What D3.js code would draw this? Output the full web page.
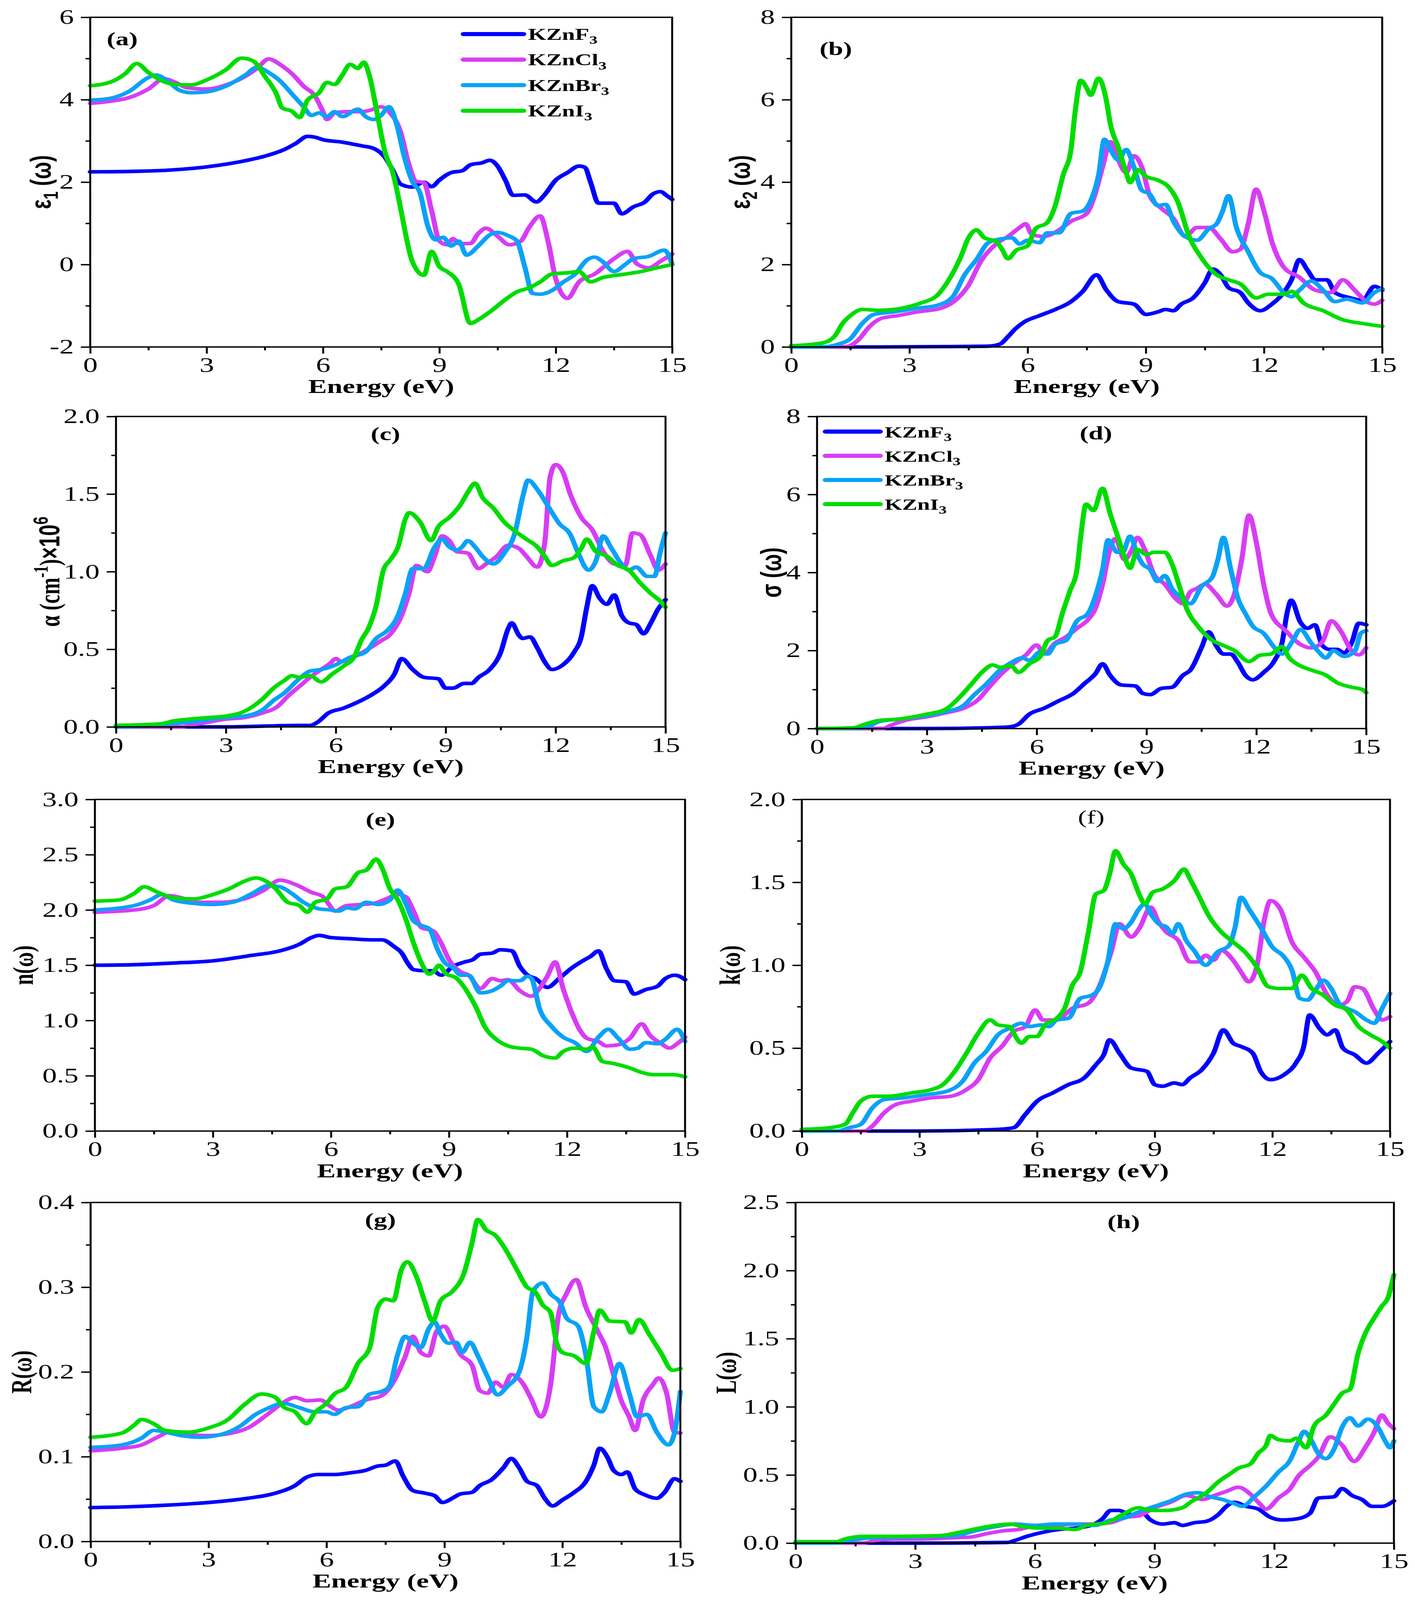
<!DOCTYPE html>
<html>
<head>
<meta charset="utf-8">
<script src="https://cdn.jsdelivr.net/npm/d3@7"></script>
<style>
  html, body { margin: 0; padding: 0; background: #fff; overflow: hidden; }
  #chart { display: block; width: 100vw; height: 100vh; }
  svg text { font-family: "Liberation Serif", "Times New Roman", serif; }
</style>
</head>
<body>
<svg id="chart"></svg>
<script>
// ---- shared ----
const energyTicks = [0, 3, 6, 9, 12, 15];
const energyMinor = [1.5, 4.5, 7.5, 10.5, 13.5];
const materials = [["KZnF", "3"], ["KZnCl", "3"], ["KZnBr", "3"], ["KZnI", "3"]];
const colors = ["#0000ff", "#d83cf5", "#0aa2f7", "#00dc00"];

// ---- (a) eps1 ----
const eps1_F = [[0,2.25],[1,2.26],[2,2.29],[3,2.37],[4,2.52],[4.5,2.63],[5,2.79],[5.3,2.94],[5.6,3.11],[5.8,3.09],[6,3.03],[6.5,2.97],[7,2.88],[7.3,2.82],[7.6,2.6],[7.8,2.29],[8,1.95],[8.3,1.88],[8.6,2.0],[8.8,1.89],[9,2.05],[9.3,2.23],[9.6,2.28],[9.8,2.42],[10.1,2.47],[10.3,2.53],[10.5,2.39],[10.7,2.05],[10.9,1.68],[11.2,1.69],[11.5,1.52],[11.7,1.68],[12,2.05],[12.3,2.23],[12.6,2.39],[12.75,2.36],[12.9,1.99],[13.1,1.49],[13.5,1.49],[13.7,1.23],[14,1.4],[14.3,1.52],[14.5,1.71],[14.7,1.77],[14.85,1.68],[15,1.58]];
const eps1_Cl = [[0,3.91],[0.5,3.96],[1,4.05],[1.5,4.26],[1.9,4.51],[2.2,4.42],[2.5,4.29],[3,4.26],[3.5,4.36],[4,4.57],[4.3,4.76],[4.6,4.99],[4.9,4.85],[5.2,4.63],[5.5,4.33],[5.8,4.08],[6.0,3.71],[6.1,3.52],[6.3,3.68],[6.6,3.71],[7,3.71],[7.3,3.77],[7.5,3.83],[7.7,3.71],[8,3.22],[8.2,2.48],[8.4,2.02],[8.6,1.99],[8.8,1.31],[9,0.57],[9.2,0.48],[9.35,0.63],[9.5,0.51],[9.8,0.51],[10,0.75],[10.2,0.88],[10.5,0.69],[10.8,0.48],[11.1,0.57],[11.3,0.88],[11.6,1.18],[11.8,0.57],[12,-0.35],[12.3,-0.82],[12.6,-0.42],[13,-0.23],[13.5,0.14],[13.85,0.32],[14.1,0.01],[14.4,-0.08],[14.7,0.08],[15,0.26]];
const eps1_Br = [[0,3.99],[0.5,4.03],[1,4.2],[1.5,4.54],[1.7,4.6],[2,4.45],[2.3,4.23],[2.6,4.17],[3,4.19],[3.5,4.33],[4,4.6],[4.3,4.79],[4.6,4.66],[4.9,4.45],[5.2,4.14],[5.5,3.83],[5.7,3.62],[5.9,3.68],[6.1,3.59],[6.3,3.71],[6.5,3.59],[6.9,3.77],[7.1,3.59],[7.3,3.52],[7.5,3.62],[7.7,3.83],[7.9,3.4],[8.1,2.6],[8.3,2.02],[8.5,1.74],[8.7,0.94],[8.9,0.6],[9.1,0.66],[9.3,0.45],[9.5,0.57],[9.7,0.23],[10,0.45],[10.3,0.72],[10.5,0.78],[10.8,0.69],[11,0.57],[11.2,-0.05],[11.4,-0.7],[11.6,-0.72],[11.9,-0.63],[12.2,-0.42],[12.5,-0.23],[12.8,0.11],[13,0.18],[13.2,0.08],[13.5,-0.17],[13.8,0.01],[14,0.14],[14.4,0.2],[14.8,0.35],[15,0.01]];
const eps1_I = [[0,4.34],[0.5,4.42],[0.9,4.63],[1.2,4.88],[1.5,4.66],[1.8,4.48],[2.2,4.37],[2.6,4.36],[3,4.48],[3.5,4.73],[3.9,5.01],[4.2,4.94],[4.5,4.57],[4.8,4.14],[4.95,3.8],[5.2,3.72],[5.4,3.57],[5.6,3.99],[5.9,4.17],[6.1,4.42],[6.3,4.37],[6.5,4.6],[6.7,4.86],[6.9,4.76],[7.05,4.91],[7.2,4.57],[7.4,3.65],[7.6,2.72],[7.8,2.23],[8,1.37],[8.1,0.88],[8.3,0.08],[8.6,-0.26],[8.8,0.32],[9,-0.05],[9.2,-0.17],[9.5,-0.48],[9.8,-1.43],[10,-1.34],[10.3,-1.15],[10.7,-0.85],[11,-0.66],[11.3,-0.57],[11.6,-0.42],[11.9,-0.23],[12.3,-0.2],[12.6,-0.17],[12.9,-0.42],[13.2,-0.32],[13.8,-0.23],[14.2,-0.17],[14.6,-0.08],[15,0]];

// ---- (b) eps2 ----
const eps2_F = [[0,0],[2,0],[4,0.01],[5,0.02],[5.3,0.07],[5.5,0.25],[5.7,0.45],[5.9,0.6],[6.3,0.76],[6.7,0.91],[7.1,1.1],[7.4,1.35],[7.75,1.75],[8,1.38],[8.3,1.1],[8.7,1.04],[9,0.79],[9.3,0.85],[9.5,0.91],[9.7,0.88],[9.9,1.04],[10.2,1.19],[10.5,1.56],[10.7,1.89],[10.9,1.75],[11.1,1.44],[11.4,1.32],[11.6,1.07],[11.9,0.88],[12.2,1.04],[12.5,1.32],[12.7,1.63],[12.9,2.12],[13.1,1.87],[13.3,1.63],[13.6,1.63],[13.8,1.32],[14.2,1.19],[14.5,1.13],[14.8,1.47],[15,1.38]];
const eps2_Cl = [[0,0],[1.4,0.01],[1.7,0.17],[2,0.51],[2.3,0.7],[2.7,0.76],[3.2,0.85],[3.8,0.94],[4.2,1.16],[4.5,1.5],[4.8,2.06],[5.2,2.5],[5.5,2.68],[5.8,2.9],[5.95,2.99],[6.1,2.74],[6.4,2.68],[6.8,2.84],[7.1,3.05],[7.5,3.24],[7.7,3.67],[7.9,4.36],[8.1,4.98],[8.3,4.54],[8.5,4.23],[8.7,4.64],[8.9,4.36],[9.1,3.67],[9.4,3.36],[9.7,3.12],[10,2.68],[10.3,2.9],[10.6,2.9],[10.9,2.62],[11.2,2.31],[11.4,2.37],[11.6,2.99],[11.8,3.83],[12,3.3],[12.2,2.56],[12.5,1.94],[12.9,1.69],[13.3,1.38],[13.7,1.32],[14,1.63],[14.3,1.38],[14.6,1.1],[14.8,1.04],[15,1.13]];
const eps2_Br = [[0,0],[0.9,0.01],[1.2,0.07],[1.5,0.2],[1.8,0.57],[2.1,0.79],[2.6,0.85],[3.2,0.94],[3.7,1.01],[4.1,1.22],[4.4,1.75],[4.7,2.12],[5,2.53],[5.3,2.62],[5.6,2.65],[5.8,2.5],[6,2.59],[6.3,2.53],[6.5,2.77],[6.8,2.77],[7.1,3.24],[7.4,3.3],[7.6,3.55],[7.8,4.17],[7.95,5.04],[8.1,4.79],[8.3,4.54],[8.5,4.79],[8.7,4.36],[8.9,3.8],[9.1,3.71],[9.3,3.43],[9.5,3.46],[9.7,3.05],[10,2.68],[10.3,2.59],[10.6,2.87],[10.8,2.99],[10.95,3.3],[11.1,3.67],[11.3,2.9],[11.6,2.31],[11.9,1.81],[12.2,1.66],[12.5,1.32],[12.7,1.22],[12.9,1.38],[13.2,1.6],[13.5,1.38],[13.8,1.1],[14.1,1.16],[14.5,1.07],[14.8,1.32],[15,1.41]];
const eps2_I = [[0,0.03],[0.8,0.1],[1.1,0.26],[1.3,0.57],[1.5,0.76],[1.8,0.91],[2.2,0.89],[2.8,0.94],[3.3,1.07],[3.7,1.25],[4,1.63],[4.3,2.18],[4.5,2.65],[4.7,2.84],[4.9,2.65],[5.2,2.56],[5.35,2.37],[5.5,2.14],[5.7,2.34],[6,2.46],[6.2,2.87],[6.5,3.02],[6.7,3.43],[6.9,4.17],[7.1,4.79],[7.2,5.66],[7.35,6.47],[7.5,6.28],[7.6,6.11],[7.8,6.52],[8,5.97],[8.1,5.41],[8.3,4.85],[8.5,4.23],[8.6,3.99],[8.8,4.3],[9,4.14],[9.3,4.05],[9.6,3.86],[9.8,3.55],[10.1,2.68],[10.4,2.18],[10.8,1.75],[11.1,1.63],[11.4,1.53],[11.8,1.19],[12.1,1.28],[12.5,1.28],[12.7,1.35],[13,1.07],[13.5,0.88],[14,0.66],[14.5,0.57],[15,0.5]];

// ---- (c) alpha ----
const alpha_F = [[0,0],[3,0],[5,0.01],[5.3,0.01],[5.5,0.03],[5.8,0.09],[6.2,0.12],[6.6,0.16],[7,0.21],[7.3,0.26],[7.6,0.34],[7.8,0.44],[8.1,0.37],[8.4,0.32],[8.8,0.31],[9.0,0.25],[9.2,0.25],[9.5,0.28],[9.7,0.28],[9.9,0.32],[10.2,0.37],[10.5,0.48],[10.7,0.63],[10.8,0.67],[11.0,0.59],[11.1,0.57],[11.3,0.58],[11.5,0.51],[11.7,0.42],[11.9,0.37],[12.2,0.4],[12.5,0.48],[12.7,0.58],[12.85,0.77],[13,0.91],[13.2,0.83],[13.4,0.79],[13.6,0.85],[13.8,0.72],[14,0.67],[14.2,0.66],[14.4,0.6],[14.6,0.67],[14.8,0.76],[15,0.82]];
const alpha_Cl = [[0,0],[1.8,0],[2,0.01],[2.5,0.03],[3,0.05],[3.5,0.06],[4,0.09],[4.4,0.13],[4.7,0.2],[5,0.26],[5.3,0.32],[5.6,0.37],[5.85,0.41],[6,0.44],[6.15,0.42],[6.4,0.44],[6.8,0.49],[7.2,0.55],[7.5,0.6],[7.8,0.72],[8,0.86],[8.2,1.04],[8.5,1.0],[8.7,1.1],[8.9,1.23],[9.1,1.2],[9.3,1.13],[9.6,1.12],[9.9,1.02],[10.1,1.05],[10.4,1.1],[10.7,1.17],[11,1.15],[11.2,1.1],[11.5,1.03],[11.7,1.18],[11.85,1.61],[12,1.69],[12.2,1.64],[12.4,1.5],[12.7,1.35],[13,1.27],[13.3,1.13],[13.6,1.05],[13.9,1.04],[14.1,1.25],[14.3,1.24],[14.6,1.1],[14.8,1.01],[15,1.05]];
const alpha_Br = [[0,0],[1.2,0.01],[1.5,0.02],[2,0.03],[3,0.06],[3.5,0.07],[4,0.11],[4.3,0.17],[4.6,0.22],[5,0.31],[5.3,0.36],[5.6,0.37],[6,0.4],[6.4,0.45],[6.8,0.48],[7.1,0.57],[7.4,0.62],[7.7,0.72],[7.9,0.86],[8.1,1.02],[8.4,1.02],[8.7,1.16],[8.9,1.21],[9.1,1.16],[9.3,1.14],[9.45,1.16],[9.6,1.2],[9.8,1.16],[10,1.1],[10.3,1.05],[10.6,1.12],[10.9,1.26],[11.1,1.48],[11.25,1.59],[11.5,1.53],[11.8,1.42],[12.1,1.31],[12.4,1.24],[12.6,1.13],[12.9,1.01],[13.1,1.07],[13.3,1.23],[13.5,1.16],[13.8,1.05],[14,1.01],[14.2,1.03],[14.5,0.97],[14.7,0.97],[14.85,1.12],[15,1.25]];
const alpha_I = [[0,0.01],[1.2,0.02],[1.6,0.04],[2,0.05],[2.5,0.06],[3,0.07],[3.5,0.1],[4,0.18],[4.3,0.25],[4.6,0.3],[4.8,0.33],[5,0.32],[5.3,0.33],[5.6,0.29],[5.9,0.34],[6.2,0.39],[6.5,0.45],[6.7,0.56],[6.9,0.64],[7.1,0.78],[7.3,1.01],[7.5,1.08],[7.7,1.16],[7.9,1.34],[8,1.38],[8.3,1.32],[8.6,1.2],[8.8,1.29],[9.1,1.35],[9.4,1.43],[9.6,1.51],[9.8,1.57],[10,1.48],[10.3,1.41],[10.6,1.32],[10.9,1.26],[11.2,1.21],[11.5,1.16],[11.7,1.1],[11.9,1.04],[12.2,1.07],[12.5,1.09],[12.7,1.15],[12.85,1.21],[13.1,1.13],[13.4,1.1],[13.7,1.04],[14,1.01],[14.3,0.93],[14.6,0.86],[14.9,0.8],[15,0.77]];

// ---- (d) sigma ----
const sigma_F = [[0,0],[3,0],[5,0.03],[5.3,0.05],[5.5,0.11],[5.8,0.37],[6.2,0.52],[6.6,0.71],[7,0.9],[7.3,1.15],[7.6,1.4],[7.8,1.66],[8.0,1.37],[8.3,1.12],[8.7,1.09],[8.9,0.9],[9.1,0.87],[9.4,1.03],[9.7,1.06],[10,1.37],[10.2,1.5],[10.5,2.07],[10.7,2.48],[10.9,2.13],[11.1,1.91],[11.3,1.91],[11.5,1.69],[11.7,1.37],[11.9,1.25],[12.2,1.44],[12.5,1.75],[12.7,2.19],[12.85,3.01],[12.95,3.29],[13.2,2.73],[13.4,2.57],[13.6,2.66],[13.8,2.13],[14,2.03],[14.2,2.03],[14.4,1.94],[14.6,2.19],[14.8,2.7],[15,2.66]];
const sigma_Cl = [[0,0],[1.8,0],[2,0.08],[2.5,0.23],[3,0.3],[3.5,0.4],[4,0.52],[4.4,0.74],[4.7,1.06],[5,1.37],[5.4,1.69],[5.7,1.88],[6,2.14],[6.2,1.91],[6.5,2.19],[6.8,2.35],[7.1,2.57],[7.4,2.79],[7.6,3.07],[7.8,3.7],[8,4.59],[8.15,4.87],[8.4,4.33],[8.6,4.59],[8.75,4.9],[8.95,4.59],[9.2,3.96],[9.5,3.7],[9.8,3.33],[10,3.2],[10.2,3.51],[10.35,3.58],[10.6,3.7],[10.9,3.45],[11.2,3.14],[11.4,3.45],[11.6,4.33],[11.8,5.47],[12,4.77],[12.2,3.7],[12.4,2.95],[12.8,2.51],[13.2,2.16],[13.5,2.07],[13.8,2.22],[14.05,2.76],[14.3,2.51],[14.6,2.0],[14.8,1.89],[15,2.07]];
const sigma_Br = [[0,0],[1.0,0],[1.3,0.02],[1.7,0.18],[2.2,0.24],[3,0.33],[3.5,0.43],[4,0.59],[4.3,0.87],[4.6,1.12],[5,1.5],[5.3,1.69],[5.6,1.81],[5.8,1.75],[6.1,1.97],[6.3,1.91],[6.5,2.16],[6.8,2.26],[7.1,2.76],[7.4,2.95],[7.6,3.39],[7.8,4.08],[7.95,4.84],[8.2,4.52],[8.35,4.52],[8.55,4.93],[8.75,4.46],[8.9,4.21],[9.1,4.08],[9.3,3.77],[9.5,3.92],[9.7,3.58],[9.9,3.39],[10.2,3.2],[10.5,3.64],[10.8,3.89],[10.95,4.33],[11.1,4.9],[11.3,4.08],[11.5,3.33],[11.7,2.95],[11.9,2.63],[12.2,2.44],[12.5,2.07],[12.7,1.91],[13,2.26],[13.2,2.54],[13.5,2.19],[13.7,1.97],[13.9,1.81],[14.1,2.0],[14.4,1.85],[14.7,2.0],[14.85,2.44],[15,2.51]];
const sigma_I = [[0,0],[1,0.02],[1.3,0.11],[1.7,0.21],[2.2,0.24],[3,0.37],[3.5,0.49],[3.9,0.81],[4.2,1.12],[4.5,1.44],[4.8,1.63],[5.0,1.57],[5.3,1.61],[5.5,1.44],[5.8,1.66],[6.1,1.85],[6.3,2.26],[6.5,2.35],[6.7,2.95],[6.9,3.51],[7.1,4.08],[7.2,4.9],[7.35,5.75],[7.55,5.59],[7.8,6.16],[8.0,5.53],[8.2,4.96],[8.4,4.4],[8.55,4.11],[8.75,4.59],[9,4.46],[9.2,4.52],[9.5,4.52],[9.7,4.21],[9.9,3.64],[10.1,3.07],[10.4,2.63],[10.8,2.26],[11.1,2.13],[11.4,2.0],[11.8,1.72],[12.1,1.88],[12.4,1.91],[12.7,2.1],[12.9,1.81],[13.1,1.66],[13.5,1.5],[13.9,1.37],[14.2,1.18],[14.6,1.06],[14.9,1.0],[15,0.92]];

// ---- (e) n ----
const n_F = [[0,1.5],[1,1.505],[2,1.52],[3,1.54],[4,1.59],[4.7,1.63],[5.2,1.69],[5.5,1.75],[5.7,1.77],[6,1.75],[6.5,1.74],[7,1.73],[7.3,1.73],[7.6,1.67],[7.8,1.61],[7.95,1.52],[8.1,1.46],[8.4,1.45],[8.6,1.45],[8.8,1.41],[9.1,1.49],[9.4,1.53],[9.6,1.55],[9.8,1.6],[10.1,1.61],[10.3,1.64],[10.6,1.63],[10.8,1.49],[11,1.41],[11.2,1.38],[11.5,1.3],[11.8,1.38],[12.1,1.47],[12.4,1.54],[12.6,1.58],[12.8,1.63],[13,1.47],[13.2,1.36],[13.5,1.35],[13.7,1.24],[14,1.28],[14.3,1.31],[14.5,1.38],[14.75,1.41],[15,1.37]];
const n_Cl = [[0,1.98],[1,2.0],[1.5,2.04],[1.9,2.13],[2.2,2.11],[2.6,2.07],[3.2,2.07],[3.8,2.1],[4.3,2.18],[4.7,2.27],[5.1,2.23],[5.5,2.16],[5.8,2.12],[5.95,2.05],[6.1,1.99],[6.4,2.04],[6.8,2.05],[7.1,2.06],[7.4,2.1],[7.7,2.14],[7.9,2.12],[8.1,1.99],[8.3,1.84],[8.6,1.81],[8.8,1.7],[9,1.55],[9.3,1.44],[9.5,1.41],[9.8,1.29],[10.1,1.38],[10.3,1.36],[10.5,1.37],[10.8,1.27],[11.1,1.22],[11.3,1.29],[11.5,1.4],[11.7,1.53],[11.9,1.29],[12.1,1.09],[12.3,0.93],[12.5,0.84],[12.8,0.81],[13,0.77],[13.3,0.78],[13.6,0.84],[13.9,0.97],[14.1,0.87],[14.4,0.79],[14.6,0.75],[14.8,0.79],[15,0.85]];
const n_Br = [[0,2.0],[1,2.04],[1.4,2.09],[1.7,2.14],[2,2.09],[2.5,2.06],[3,2.05],[3.5,2.07],[4,2.15],[4.4,2.22],[4.7,2.21],[5,2.15],[5.3,2.07],[5.7,2.01],[6,2.0],[6.2,1.99],[6.4,2.02],[6.6,2.01],[6.9,2.07],[7.2,2.05],[7.5,2.09],[7.7,2.18],[7.9,2.06],[8.1,1.9],[8.3,1.86],[8.5,1.83],[8.7,1.65],[8.9,1.52],[9.1,1.48],[9.3,1.41],[9.5,1.41],[9.8,1.25],[10.1,1.27],[10.3,1.31],[10.5,1.36],[10.8,1.36],[11,1.4],[11.1,1.38],[11.3,1.11],[11.6,0.95],[11.9,0.85],[12.2,0.8],[12.5,0.72],[12.8,0.85],[13.05,0.92],[13.3,0.84],[13.6,0.74],[13.8,0.75],[14,0.8],[14.3,0.79],[14.5,0.83],[14.8,0.92],[15,0.81]];
const n_I = [[0,2.08],[0.6,2.09],[1,2.15],[1.25,2.21],[1.6,2.16],[2,2.11],[2.5,2.1],[3,2.14],[3.4,2.19],[3.8,2.26],[4.1,2.29],[4.3,2.27],[4.6,2.19],[4.9,2.07],[5.2,2.04],[5.4,1.98],[5.6,2.07],[5.9,2.1],[6.1,2.19],[6.4,2.21],[6.7,2.34],[6.9,2.36],[7.15,2.46],[7.3,2.38],[7.5,2.19],[7.7,2.09],[7.9,1.92],[8.1,1.7],[8.3,1.52],[8.5,1.42],[8.6,1.44],[8.75,1.5],[8.9,1.43],[9.2,1.38],[9.5,1.24],[9.7,1.11],[9.9,0.95],[10.2,0.83],[10.5,0.77],[10.8,0.75],[11.1,0.74],[11.4,0.68],[11.7,0.66],[11.9,0.72],[12.2,0.75],[12.5,0.74],[12.65,0.76],[12.9,0.63],[13.2,0.61],[13.6,0.57],[13.9,0.53],[14.2,0.51],[14.7,0.51],[15,0.49]];

// ---- (f) k ----
const k_F = [[0,0],[3,0],[5,0.01],[5.4,0.02],[5.7,0.1],[6,0.18],[6.4,0.23],[6.8,0.28],[7.2,0.32],[7.5,0.4],[7.7,0.46],[7.85,0.55],[8.1,0.47],[8.4,0.38],[8.8,0.36],[9,0.28],[9.2,0.27],[9.5,0.29],[9.7,0.28],[9.9,0.32],[10.2,0.37],[10.5,0.47],[10.75,0.61],[11,0.53],[11.2,0.51],[11.5,0.47],[11.7,0.36],[11.95,0.31],[12.3,0.34],[12.6,0.41],[12.8,0.51],[12.95,0.7],[13.2,0.62],[13.4,0.58],[13.6,0.61],[13.8,0.5],[14.1,0.46],[14.4,0.41],[14.7,0.47],[15,0.54]];
const k_Cl = [[0,0],[1.6,0],[1.8,0.03],[2.1,0.11],[2.4,0.16],[2.8,0.18],[3.3,0.2],[3.8,0.21],[4.2,0.25],[4.5,0.31],[4.8,0.44],[5.1,0.51],[5.4,0.6],[5.7,0.63],[5.95,0.73],[6.15,0.67],[6.5,0.67],[6.9,0.74],[7.3,0.77],[7.6,0.88],[7.9,1.09],[8.1,1.25],[8.4,1.17],[8.6,1.22],[8.9,1.35],[9.1,1.26],[9.3,1.2],[9.6,1.15],[9.9,1.02],[10.1,1.02],[10.3,1.06],[10.5,1.03],[10.7,1.09],[11,1.03],[11.2,0.96],[11.4,0.9],[11.6,0.99],[11.8,1.28],[11.95,1.39],[12.2,1.34],[12.5,1.14],[12.8,1.05],[13.1,0.96],[13.4,0.82],[13.7,0.76],[13.9,0.78],[14.1,0.87],[14.3,0.86],[14.6,0.73],[14.8,0.67],[15,0.69]];
const k_Br = [[0,0],[0.9,0],[1.2,0.02],[1.5,0.04],[1.8,0.14],[2.1,0.19],[2.6,0.2],[3.2,0.22],[3.7,0.24],[4.1,0.3],[4.4,0.41],[4.7,0.48],[5,0.58],[5.3,0.62],[5.6,0.65],[5.8,0.63],[6.1,0.64],[6.3,0.63],[6.5,0.67],[6.8,0.68],[7.1,0.8],[7.4,0.82],[7.6,0.87],[7.8,1.02],[8,1.25],[8.2,1.22],[8.4,1.26],[8.6,1.34],[8.75,1.37],[8.9,1.31],[9.1,1.25],[9.3,1.23],[9.45,1.19],[9.6,1.25],[9.8,1.15],[10,1.09],[10.3,1.0],[10.6,1.08],[10.9,1.12],[11.05,1.23],[11.2,1.41],[11.4,1.34],[11.7,1.23],[12,1.11],[12.3,1.05],[12.5,0.97],[12.7,0.8],[12.9,0.79],[13.1,0.85],[13.3,0.91],[13.5,0.86],[13.7,0.77],[13.9,0.74],[14.1,0.72],[14.4,0.67],[14.6,0.65],[14.8,0.74],[15,0.83]];
const k_I = [[0,0.01],[0.7,0.02],[1.1,0.04],[1.3,0.11],[1.5,0.18],[1.8,0.21],[2.2,0.21],[2.8,0.23],[3.3,0.25],[3.6,0.28],[3.9,0.36],[4.2,0.47],[4.5,0.59],[4.8,0.67],[5,0.64],[5.3,0.63],[5.45,0.57],[5.6,0.53],[5.8,0.57],[6,0.57],[6.2,0.64],[6.5,0.68],[6.7,0.74],[6.9,0.88],[7.1,0.96],[7.3,1.19],[7.5,1.43],[7.7,1.45],[7.85,1.55],[8,1.69],[8.2,1.61],[8.4,1.55],[8.6,1.43],[8.75,1.37],[8.95,1.44],[9.2,1.46],[9.5,1.51],[9.75,1.58],[9.9,1.52],[10.1,1.43],[10.4,1.29],[10.7,1.2],[11,1.14],[11.3,1.08],[11.6,0.99],[11.9,0.87],[12.2,0.86],[12.5,0.86],[12.75,0.94],[13,0.86],[13.3,0.82],[13.6,0.76],[13.9,0.73],[14.2,0.63],[14.5,0.58],[14.8,0.54],[15,0.5]];

// ---- (g) R ----
const R_F = [[0,0.04],[1,0.041],[2,0.043],[3,0.046],[4,0.051],[4.7,0.057],[5.2,0.066],[5.5,0.076],[5.8,0.079],[6.2,0.079],[6.6,0.081],[7,0.084],[7.3,0.089],[7.5,0.09],[7.75,0.095],[7.95,0.077],[8.2,0.06],[8.5,0.057],[8.75,0.054],[8.95,0.046],[9.2,0.051],[9.4,0.056],[9.7,0.058],[9.9,0.066],[10.2,0.073],[10.5,0.087],[10.7,0.098],[10.9,0.087],[11.1,0.071],[11.35,0.066],[11.55,0.051],[11.75,0.042],[12,0.049],[12.3,0.058],[12.6,0.071],[12.8,0.09],[12.95,0.11],[13.15,0.099],[13.3,0.084],[13.5,0.079],[13.65,0.082],[13.85,0.062],[14.1,0.055],[14.4,0.051],[14.6,0.058],[14.85,0.074],[15,0.071]];
const R_Cl = [[0,0.107],[0.8,0.11],[1.3,0.114],[1.7,0.123],[2.0,0.129],[2.5,0.126],[3,0.125],[3.6,0.128],[4,0.134],[4.5,0.15],[4.9,0.164],[5.2,0.17],[5.5,0.166],[5.85,0.167],[6.05,0.161],[6.3,0.155],[6.6,0.159],[7,0.167],[7.4,0.172],[7.7,0.188],[8,0.218],[8.2,0.242],[8.4,0.223],[8.6,0.219],[8.8,0.248],[9,0.254],[9.2,0.238],[9.4,0.221],[9.7,0.208],[9.9,0.178],[10.1,0.175],[10.3,0.188],[10.5,0.182],[10.7,0.197],[11,0.186],[11.2,0.169],[11.45,0.147],[11.7,0.185],[11.9,0.267],[12.1,0.292],[12.35,0.309],[12.6,0.276],[12.9,0.248],[13.1,0.229],[13.3,0.197],[13.5,0.166],[13.7,0.147],[13.85,0.131],[14.05,0.166],[14.3,0.185],[14.45,0.193],[14.65,0.175],[14.85,0.129],[15,0.128]];
const R_Br = [[0,0.111],[0.8,0.114],[1.3,0.122],[1.6,0.131],[1.9,0.129],[2.3,0.125],[2.8,0.123],[3.3,0.126],[3.8,0.136],[4.2,0.15],[4.5,0.157],[4.9,0.163],[5.3,0.158],[5.7,0.153],[6.0,0.153],[6.2,0.15],[6.5,0.158],[6.8,0.159],[7.1,0.174],[7.4,0.177],[7.6,0.183],[7.8,0.219],[8.0,0.242],[8.2,0.234],[8.4,0.229],[8.6,0.251],[8.75,0.259],[8.9,0.245],[9.1,0.234],[9.3,0.235],[9.45,0.223],[9.65,0.235],[9.85,0.219],[10.1,0.194],[10.35,0.173],[10.6,0.183],[10.9,0.2],[11.1,0.242],[11.25,0.295],[11.5,0.305],[11.7,0.292],[11.95,0.281],[12.1,0.264],[12.4,0.254],[12.6,0.219],[12.8,0.159],[13,0.153],[13.2,0.175],[13.45,0.21],[13.7,0.175],[13.9,0.147],[14.15,0.15],[14.4,0.129],[14.7,0.114],[14.85,0.128],[15,0.177]];
const R_I = [[0,0.123],[0.8,0.128],[1.1,0.137],[1.3,0.144],[1.6,0.139],[1.9,0.131],[2.5,0.129],[3,0.134],[3.5,0.144],[3.9,0.161],[4.35,0.174],[4.7,0.17],[4.9,0.159],[5.2,0.153],[5.5,0.139],[5.7,0.152],[6,0.163],[6.2,0.174],[6.5,0.182],[6.8,0.21],[7.1,0.229],[7.3,0.276],[7.5,0.286],[7.7,0.284],[7.9,0.32],[8.05,0.33],[8.3,0.311],[8.5,0.283],[8.7,0.26],[8.9,0.284],[9.2,0.295],[9.5,0.317],[9.7,0.352],[9.85,0.38],[10.05,0.368],[10.3,0.361],[10.6,0.341],[10.85,0.32],[11.1,0.3],[11.3,0.295],[11.5,0.279],[11.7,0.27],[11.85,0.235],[12.0,0.223],[12.3,0.219],[12.6,0.21],[12.8,0.248],[12.95,0.273],[13.2,0.26],[13.6,0.259],[13.75,0.246],[13.95,0.262],[14.2,0.245],[14.5,0.223],[14.8,0.202],[15,0.204]];

// ---- (h) L ----
const L_F = [[0,0],[3,0],[5.3,0.005],[5.5,0.02],[5.8,0.05],[6.2,0.08],[6.6,0.1],[7,0.11],[7.4,0.13],[7.7,0.18],[7.9,0.24],[8.1,0.24],[8.4,0.21],[8.7,0.22],[8.9,0.17],[9.2,0.14],[9.5,0.15],[9.7,0.13],[10,0.15],[10.3,0.16],[10.6,0.21],[10.8,0.27],[11,0.3],[11.3,0.27],[11.6,0.25],[11.9,0.19],[12.2,0.17],[12.6,0.18],[12.9,0.22],[13.1,0.33],[13.5,0.34],[13.7,0.4],[13.95,0.35],[14.2,0.32],[14.45,0.27],[14.7,0.27],[15,0.31]];
const L_Cl = [[0,0],[1.7,0],[2,0.02],[2.5,0.03],[3,0.03],[4,0.04],[4.4,0.045],[4.8,0.07],[5.2,0.09],[5.6,0.1],[6.1,0.13],[6.5,0.13],[7,0.14],[7.5,0.14],[7.9,0.15],[8.3,0.19],[8.6,0.2],[9,0.26],[9.4,0.3],[9.8,0.35],[10.2,0.32],[10.5,0.35],[10.8,0.38],[11.1,0.41],[11.4,0.36],[11.6,0.3],[11.8,0.25],[12.1,0.33],[12.4,0.4],[12.6,0.49],[12.9,0.57],[13.1,0.63],[13.4,0.78],[13.7,0.72],[14,0.6],[14.3,0.71],[14.5,0.81],[14.7,0.94],[14.85,0.88],[15,0.84]];
const L_Br = [[0,0],[1.0,0],[1.3,0.01],[1.6,0.03],[2,0.04],[3,0.045],[4,0.055],[4.5,0.09],[5,0.12],[5.5,0.14],[6,0.13],[6.5,0.14],[7,0.14],[7.5,0.13],[7.9,0.17],[8.2,0.18],[8.6,0.23],[9,0.27],[9.4,0.31],[9.8,0.36],[10.1,0.37],[10.4,0.34],[10.7,0.32],[11,0.29],[11.2,0.27],[11.5,0.34],[11.8,0.42],[12.1,0.52],[12.4,0.61],[12.6,0.74],[12.75,0.82],[12.9,0.77],[13.1,0.66],[13.3,0.62],[13.5,0.69],[13.7,0.85],[13.9,0.92],[14.1,0.86],[14.35,0.91],[14.6,0.85],[14.8,0.74],[14.9,0.7],[15,0.75]];
const L_I = [[0,0.01],[1,0.01],[1.3,0.035],[1.7,0.05],[2.3,0.05],[3.6,0.055],[4.2,0.085],[4.6,0.11],[5,0.13],[5.4,0.14],[5.7,0.12],[6.2,0.11],[6.6,0.11],[7,0.1],[7.3,0.13],[7.8,0.15],[8.2,0.21],[8.6,0.26],[8.9,0.24],[9.3,0.24],[9.7,0.26],[9.9,0.3],[10.3,0.37],[10.6,0.45],[10.9,0.51],[11.1,0.55],[11.4,0.58],[11.6,0.66],[11.8,0.72],[11.9,0.79],[12.1,0.76],[12.4,0.75],[12.55,0.77],[12.8,0.7],[13,0.86],[13.3,0.94],[13.5,1.02],[13.7,1.1],[13.9,1.13],[14.1,1.39],[14.3,1.55],[14.5,1.65],[14.7,1.74],[14.85,1.8],[15,1.97]];

// ---- y ticks ----
const eps1Ticks = [-2, 0, 2, 4, 6], eps1Minor = [-1, 1, 3, 5];
const eightTicks = [0, 2, 4, 6, 8], eightMinor = [1, 3, 5, 7];
const twoTicks = [0, 0.5, 1, 1.5, 2], twoMinor = [0.25, 0.75, 1.25, 1.75];
const threeTicks = [0, 0.5, 1, 1.5, 2, 2.5, 3], threeMinor = [0.25, 0.75, 1.25, 1.75, 2.25, 2.75];
const rTicks = [0, 0.1, 0.2, 0.3, 0.4], rMinor = [0.05, 0.15, 0.25, 0.35];
const lossTicks = [0, 0.5, 1, 1.5, 2, 2.5], lossMinor = [0.25, 0.75, 1.25, 1.75, 2.25];

const fmtInt = d => String(d);
const fmt1 = d3.format(".1f");

// panel table: box = [left, top, right, bottom] in px
const panels = [
  { series: [eps1_F, eps1_Cl, eps1_Br, eps1_I], y: [-2, 6], ticks: eps1Ticks, minor: eps1Minor, fmt: fmtInt,
    box: [231, 63, 1721, 1263], ylab: [["ε", "g"], ["1", "subg"], [" (ω)", "g"]], ylabX: 130,
    tag: "(a)", tagXY: [313, 165], legend: { x: 1187, y: 124, len: 153, gap: 93, size: 60 } },
  { series: [eps2_F, eps2_Cl, eps2_Br, eps2_I], y: [0, 8], ticks: eightTicks, minor: eightMinor, fmt: fmtInt,
    box: [2026, 63, 3539, 1263], ylab: [["ε", "g"], ["2", "subg"], [" (ω)", "g"]], ylabX: 1920,
    tag: "(b)", tagXY: [2140, 200] },
  { series: [alpha_F, alpha_Cl, alpha_Br, alpha_I], y: [0, 2], ticks: twoTicks, minor: twoMinor, fmt: fmt1,
    box: [297, 1516, 1704, 2646], ylab: [["α (cm", ""], ["-1", "sup"], [")", ""], ["×10", "g"], ["6", "supg"]], ylabX: 152,
    tag: "(c)", tagXY: [987, 1603] },
  { series: [sigma_F, sigma_Cl, sigma_Br, sigma_I], y: [0, 8], ticks: eightTicks, minor: eightMinor, fmt: fmtInt,
    box: [2092, 1516, 3498, 2652], ylab: [["σ", "g"], [" (ω)", "g"]], ylabX: 2000,
    tag: "(d)", tagXY: [2806, 1600], legend: { x: 2114, y: 1571, len: 139, gap: 88, size: 58 } },
  { series: [n_F, n_Cl, n_Br, n_I], y: [0, 3], ticks: threeTicks, minor: threeMinor, fmt: fmt1,
    box: [243, 2910, 1754, 4117], ylab: [["n(ω)", ""]], ylabX: 84,
    tag: "(e)", tagXY: [974, 3006] },
  { series: [k_F, k_Cl, k_Br, k_I], y: [0, 2], ticks: twoTicks, minor: twoMinor, fmt: fmt1,
    box: [2053, 2910, 3559, 4117], ylab: [["k(ω)", ""]], ylabX: 1894,
    tag: "(f)", tagXY: [2794, 2998], tagNormal: true },
  { series: [R_F, R_Cl, R_Br, R_I], y: [0, 0.4], ticks: rTicks, minor: rMinor, fmt: fmt1,
    box: [232, 4377, 1742, 5611], ylab: [["R(ω)", ""]], ylabX: 80,
    tag: "(g)", tagXY: [974, 4463] },
  { series: [L_F, L_Cl, L_Br, L_I], y: [0, 2.5], ticks: lossTicks, minor: lossMinor, fmt: fmt1,
    box: [2037, 4377, 3569, 5617], ylab: [["L(ω)", ""]], ylabX: 1884,
    tag: "(h)", tagXY: [2877, 4470] }
];

// drawing in a fixed 3623 x 5824 coordinate system, stretched to the window
const W = 3623, H = 5824;
const svg = d3.select("#chart")
  .attr("viewBox", `0 0 ${W} ${H}`)
  .attr("preserveAspectRatio", "none");
svg.append("rect").attr("width", W).attr("height", H).attr("fill", "#fff");

const SANS = '"Liberation Sans", Arial, sans-serif';

// text with sub/superscripts, parts = [[string, kind], ...]
function richText(sel, parts, size) {
  let shift = 0;
  parts.forEach(([str, kind]) => {
    const t = sel.append("tspan").text(str);
    let target = 0;
    if (kind.startsWith("sub")) { target = size * 0.24; t.attr("font-size", size * 0.7); }
    else if (kind.startsWith("sup")) { target = -size * 0.4; t.attr("font-size", size * 0.7); }
    t.attr("dy", target - shift);
    shift = target;
    if (kind.endsWith("g")) t.attr("font-family", SANS);
  });
}

function styleAxis(g, size) {
  g.select(".domain").remove();
  g.selectAll(".tick line").attr("stroke", "#000").attr("stroke-width", 5);
  g.attr("font-size", size).attr("font-family", '"Liberation Serif", "Times New Roman", serif');
  g.selectAll(".tick text").attr("fill", "#000");
}

panels.forEach(p => {
  const [L, T, R, B] = p.box;
  const x = d3.scaleLinear().domain([0, 15]).range([L, R]);
  const y = d3.scaleLinear().domain(p.y).range([B, T]);
  const g = svg.append("g");

  const line = d3.line()
    .x(d => x(d[0]))
    .y(d => y(d[1]))
    .curve(d3.curveMonotoneX);

  p.series.forEach((s, i) => {
    g.append("path")
      .datum(s)
      .attr("d", line)
      .attr("fill", "none")
      .attr("stroke", colors[i])
      .attr("stroke-width", 13)
      .attr("stroke-linejoin", "round")
      .attr("stroke-linecap", "round");
  });

  // frame
  g.append("rect")
    .attr("x", L).attr("y", T)
    .attr("width", R - L).attr("height", B - T)
    .attr("fill", "none").attr("stroke", "#000").attr("stroke-width", 5);

  // x axis
  const xa = g.append("g").attr("transform", `translate(0,${B})`)
    .call(d3.axisBottom(x).tickValues(energyTicks).tickSize(24).tickPadding(14).tickFormat(fmtInt));
  styleAxis(xa, 74);
  const xm = g.append("g").attr("transform", `translate(0,${B})`)
    .call(d3.axisBottom(x).tickValues(energyMinor).tickSize(12).tickFormat(""));
  styleAxis(xm, 10);

  // y axis
  const ya = g.append("g").attr("transform", `translate(${L},0)`)
    .call(d3.axisLeft(y).tickValues(p.ticks).tickSize(24).tickPadding(18).tickFormat(p.fmt));
  styleAxis(ya, 74);
  const ym = g.append("g").attr("transform", `translate(${L},0)`)
    .call(d3.axisLeft(y).tickValues(p.minor).tickSize(12).tickFormat(""));
  styleAxis(ym, 10);

  // axis titles
  g.append("text")
    .attr("x", (L + R) / 2).attr("y", B + 168)
    .attr("text-anchor", "middle")
    .attr("font-size", 72).attr("font-weight", "bold")
    .text("Energy (eV)");

  const yl = g.append("text")
    .attr("transform", `translate(${p.ylabX},${(T + B) / 2}) rotate(-90)`)
    .attr("text-anchor", "middle")
    .attr("font-size", 74).attr("font-weight", "bold");
  richText(yl, p.ylab, 74);

  // panel tag
  g.append("text")
    .attr("x", p.tagXY[0]).attr("y", p.tagXY[1])
    .attr("text-anchor", "middle")
    .attr("font-size", 68)
    .attr("font-weight", p.tagNormal ? "normal" : "bold")
    .text(p.tag);

  // legend
  if (p.legend) {
    const lg = p.legend;
    materials.forEach((m, i) => {
      const ly = lg.y + i * lg.gap;
      g.append("line")
        .attr("x1", lg.x).attr("x2", lg.x + lg.len)
        .attr("y1", ly).attr("y2", ly)
        .attr("stroke", colors[i]).attr("stroke-width", 15)
        .attr("stroke-linecap", "round");
      const t = g.append("text")
        .attr("x", lg.x + lg.len + 12).attr("y", ly + 21)
        .attr("font-size", lg.size).attr("font-weight", "bold");
      richText(t, [[m[0], ""], [m[1], "sub"]], lg.size);
    });
  }
});
</script>
</body>
</html>
